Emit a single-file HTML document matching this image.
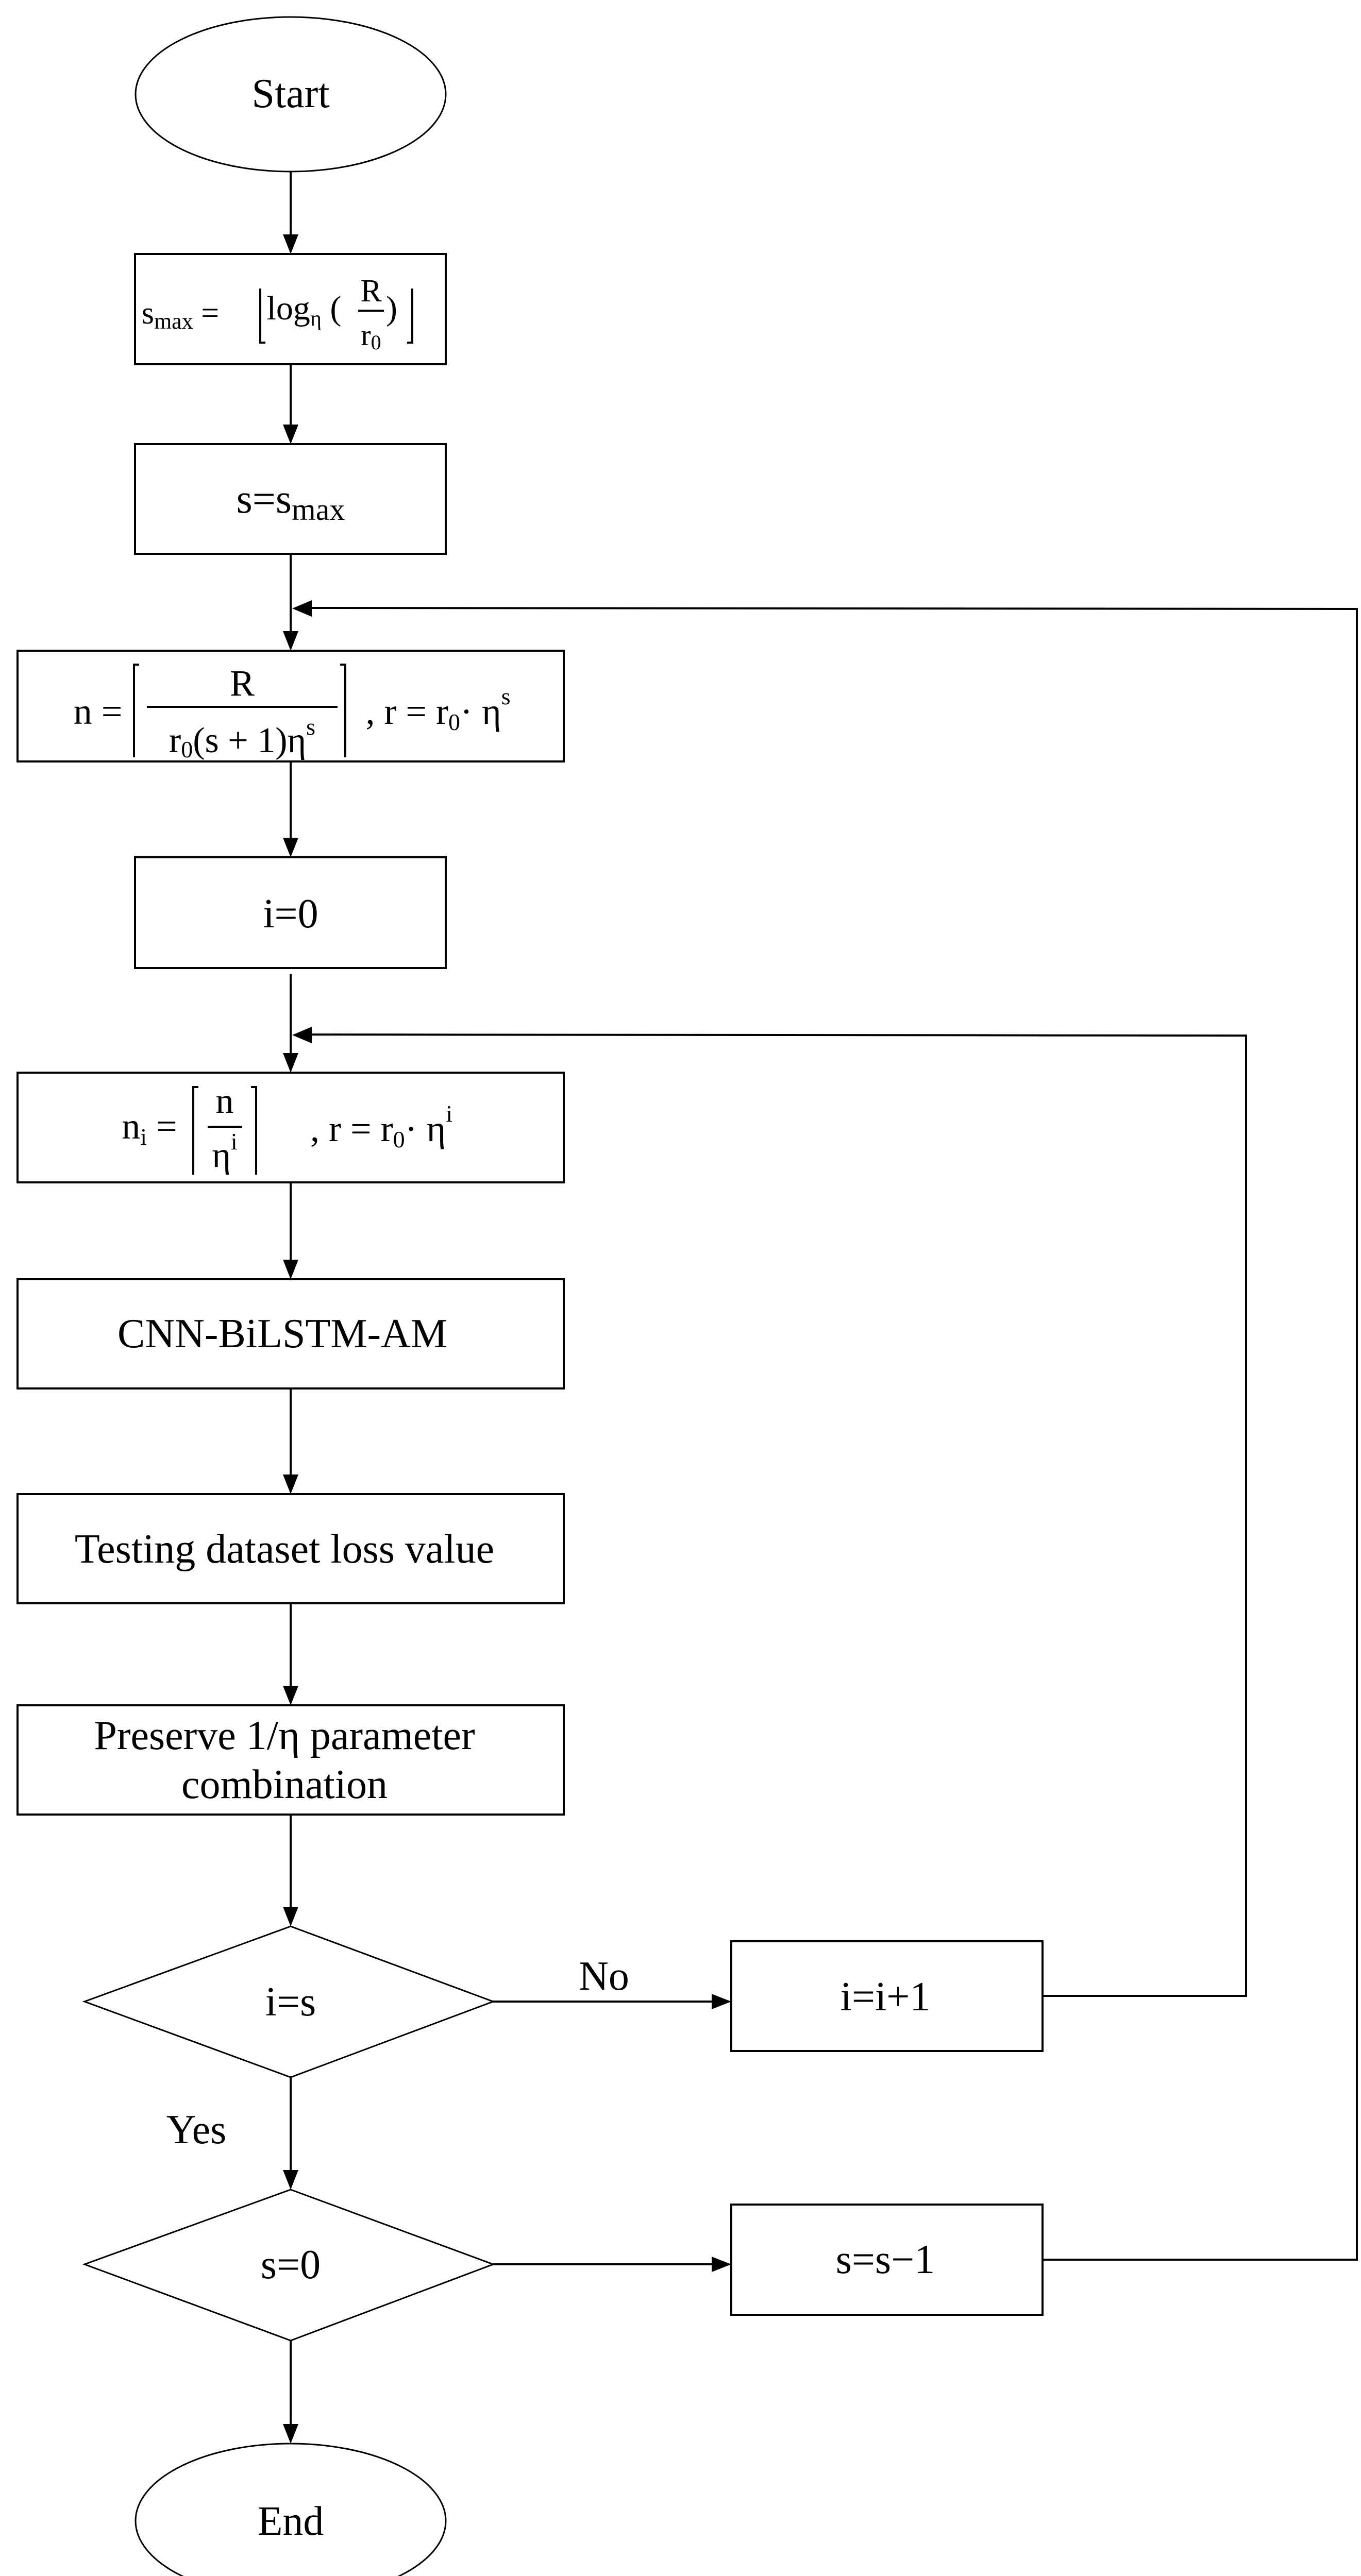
<!DOCTYPE html>
<html><head><meta charset="utf-8"><style>
html,body{margin:0;padding:0;background:#fff;width:2641px;height:5050px;overflow:hidden;}
svg{display:block;position:absolute;left:0;top:0;}
text{font-family:"Liberation Serif",serif;fill:#000;}
</style></head><body>
<svg width="2641" height="5050" viewBox="0 0 2641 5050" xmlns="http://www.w3.org/2000/svg">
<g fill="none" stroke="#000" stroke-width="4">
<ellipse cx="564" cy="183" rx="301" ry="150" stroke-width="3"/>
<rect x="262" y="493" width="603" height="214"/>
<rect x="262" y="862" width="603" height="213"/>
<rect x="34" y="1263" width="1060" height="215"/>
<rect x="262" y="1664" width="603" height="215"/>
<rect x="34" y="2082" width="1060" height="213"/>
<rect x="34" y="2483" width="1060" height="212"/>
<rect x="34" y="2900" width="1060" height="212"/>
<rect x="34" y="3310" width="1060" height="212"/>
<polygon points="564,3739 957,3885 564,4032 164,3885" stroke-width="3"/>
<polygon points="564,4250 957,4395 564,4543 164,4395" stroke-width="3"/>
<rect x="1419" y="3768" width="604" height="213"/>
<rect x="1419" y="4279" width="604" height="214"/>
<ellipse cx="564" cy="4893" rx="301" ry="150" stroke-width="3"/>
<line x1="564" y1="333" x2="564" y2="455"/>
<line x1="564" y1="707" x2="564" y2="824"/>
<line x1="564" y1="1075" x2="564" y2="1225"/>
<line x1="564" y1="1478" x2="564" y2="1626"/>
<line x1="564" y1="1890" x2="564" y2="2044"/>
<line x1="564" y1="2295" x2="564" y2="2445"/>
<line x1="564" y1="2695" x2="564" y2="2862"/>
<line x1="564" y1="3112" x2="564" y2="3272"/>
<line x1="564" y1="3522" x2="564" y2="3701"/>
<line x1="564" y1="4032" x2="564" y2="4212"/>
<line x1="564" y1="4543" x2="564" y2="4705"/>
<line x1="957" y1="3885" x2="1381" y2="3885"/>
<line x1="957" y1="4395" x2="1381" y2="4395"/>
<polyline points="2023,3874 2418,3874 2418,2010 605,2008"/>
<polyline points="2023,4386 2633,4386 2633,1182 605,1180"/>
</g>
<g fill="#000">
<polygon points="549,455 579,455 564,493"/>
<polygon points="549,824 579,824 564,862"/>
<polygon points="549,1225 579,1225 564,1263"/>
<polygon points="549,1626 579,1626 564,1664"/>
<polygon points="549,2044 579,2044 564,2082"/>
<polygon points="549,2445 579,2445 564,2483"/>
<polygon points="549,2862 579,2862 564,2900"/>
<polygon points="549,3272 579,3272 564,3310"/>
<polygon points="549,3701 579,3701 564,3739"/>
<polygon points="549,4212 579,4212 564,4250"/>
<polygon points="549,4705 579,4705 564,4743"/>
<polygon points="1381,3870 1381,3900 1419,3885"/>
<polygon points="1381,4380 1381,4410 1419,4395"/>
<polygon points="605,1165 605,1197 567,1181"/>
<polygon points="605,1993 605,2025 567,2009"/>
</g>
<g font-size="80" text-anchor="middle">
<text x="564" y="208">Start</text>
<text x="350" y="628" font-size="62">s<tspan font-size="44" dy="10">max</tspan><tspan dy="-10"> =</tspan></text>
<text x="590" y="620" font-size="66">log<tspan font-size="42" dy="12">η</tspan><tspan dy="-12"> (</tspan></text>
<text x="720" y="585" font-size="62">R</text>
<text x="720" y="670" font-size="58">r<tspan font-size="40" dy="8">0</tspan></text>
<text x="760" y="620" font-size="66">)</text>
<text x="564" y="995">s=s<tspan font-size="60" dy="14">max</tspan></text>
<text x="190" y="1405" font-size="72">n =</text>
<text x="470" y="1350" font-size="72">R</text>
<text x="470" y="1460" font-size="70">r<tspan font-size="46" dy="10">0</tspan><tspan dy="-10">(s + 1)η</tspan><tspan font-size="46" dy="-34">s</tspan></text>
<text x="850" y="1405" font-size="72">, r = r<tspan font-size="46" dy="12">0</tspan><tspan dy="-12">· η</tspan><tspan font-size="46" dy="-38">s</tspan></text>
<text x="564" y="1800">i=0</text>
<text x="290" y="2210" font-size="72">n<tspan font-size="46" dy="12">i</tspan><tspan dy="-12"> =</tspan></text>
<text x="436" y="2160" font-size="70">n</text>
<text x="436" y="2265" font-size="70">η<tspan font-size="46" dy="-34">i</tspan></text>
<text x="740" y="2215" font-size="72">,  r = r<tspan font-size="46" dy="12">0</tspan><tspan dy="-12">· η</tspan><tspan font-size="46" dy="-38">i</tspan></text>
<text x="548" y="2615">CNN-BiLSTM-AM</text>
<text x="552" y="3033">Testing dataset loss value</text>
<text x="552" y="3395">Preserve 1/η  parameter</text>
<text x="552" y="3490">combination</text>
<text x="564" y="3912">i=s</text>
<text x="1172" y="3862">No</text>
<text x="1718" y="3902">i=i+1</text>
<text x="381" y="4160">Yes</text>
<text x="564" y="4422">s=0</text>
<text x="1718" y="4412">s=s−1</text>
<text x="564" y="4920">End</text>
</g>
<g stroke="#000" stroke-width="4" fill="none">
<polyline points="505,560 505,665 515,665"/>
<polyline points="800,560 800,665 790,665"/>
<line x1="695" y1="603" x2="745" y2="603"/>
<polyline points="270,1290 260,1290 260,1470"/>
<polyline points="660,1290 670,1290 670,1470"/>
<line x1="285" y1="1372" x2="655" y2="1372"/>
<polyline points="385,2110 375,2110 375,2280"/>
<polyline points="487,2110 497,2110 497,2280"/>
<line x1="403" y1="2187" x2="470" y2="2187"/>
</g>
</svg>
</body></html>
